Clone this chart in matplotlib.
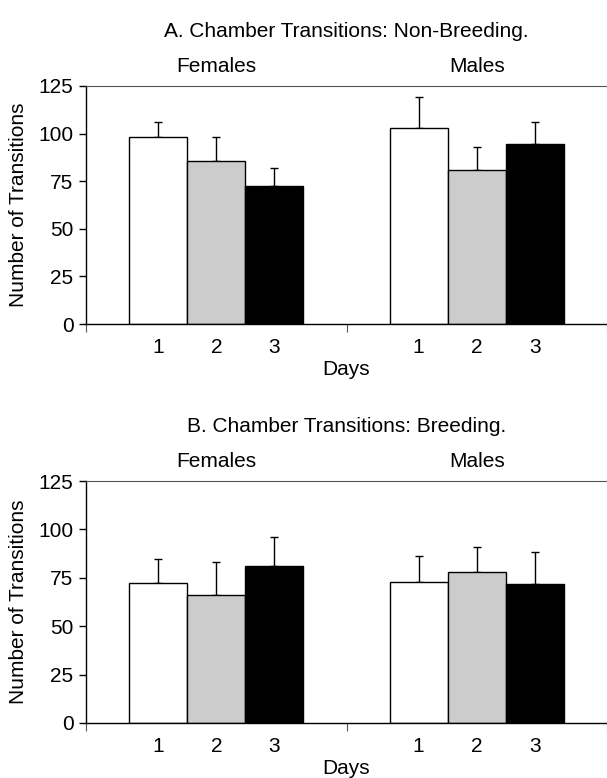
from matplotlib import pyplot as plt
from matplotlib.transforms import blended_transform_factory

plt.rcParams['font.family'] = ['Liberation Sans', 'DejaVu Sans']

# Datos
grupos = ['Females', 'Males']
dias = ['1', '2', '3']
colores = ['white', '#cccccc', 'black']

titulo_a = 'A. Chamber Transitions: Non-Breeding.'
medias_a = [[98.0, 85.8, 72.6], [102.8, 80.9, 94.4]]
errores_a = [[8.3, 12.2, 9.5], [16.2, 12.2, 11.9]]

titulo_b = 'B. Chamber Transitions: Breeding.'
medias_b = [[72.2, 66.0, 81.1], [72.7, 77.8, 71.6]]
errores_b = [[12.7, 17.3, 14.8], [13.7, 13.2, 16.9]]

ancho = 0.223
fs = 15

fig = plt.figure(figsize=(6.07, 7.78), dpi=100)
ax_a = fig.add_axes([0.1417, 0.5835, 0.8583, 0.306])
ax_b = fig.add_axes([0.1417, 0.0707, 0.8583, 0.311])


def dibujar(ax, titulo, medias, errores):
    posiciones = []
    for g, centro in enumerate([0.5, 1.5]):
        for d in range(3):
            x = centro + (d - 1) * ancho
            posiciones.append(x)
            ax.bar(x, medias[g][d], width=ancho, color=colores[d],
                   edgecolor='black', linewidth=1.0, zorder=2)
            ax.errorbar(x, medias[g][d], yerr=[[0], [errores[g][d]]],
                        fmt='none', ecolor='black', elinewidth=1.0,
                        capsize=3, capthick=1.0, zorder=1)
    ax.set_xlim(0, 2)
    ax.set_ylim(0, 125)
    ax.set_yticks([0, 25, 50, 75, 100, 125])
    ax.set_xticks([0, 1, 2])
    ax.set_xticklabels([])
    ax.set_xticks(posiciones, minor=True)
    ax.set_xticklabels(dias * 2, minor=True)
    ax.tick_params(axis='x', which='major', length=6, color='#555555', direction='out')
    ax.tick_params(axis='x', which='minor', length=0, pad=10, labelsize=fs)
    ax.tick_params(axis='y', length=5, width=1, labelsize=fs, pad=4)
    ax.spines['right'].set_visible(False)
    ax.spines['top'].set_color('#555555')
    for s in ['left', 'bottom']:
        ax.spines[s].set_linewidth(1.0)
    ax.set_ylabel('Number of Transitions', fontsize=fs)
    ax.yaxis.set_label_coords(-0.112, 0.5)
    ax.set_xlabel('Days', fontsize=fs, labelpad=2)
    ax.set_title(titulo, fontsize=fs, pad=35)
    trans = blended_transform_factory(ax.transData, ax.transAxes)
    for g, centro in enumerate([0.5, 1.5]):
        ax.text(centro, 1.08, grupos[g], transform=trans, ha='center',
                va='center', fontsize=fs)


dibujar(ax_a, titulo_a, medias_a, errores_a)
dibujar(ax_b, titulo_b, medias_b, errores_b)

fig.savefig('out.png', dpi=100)
